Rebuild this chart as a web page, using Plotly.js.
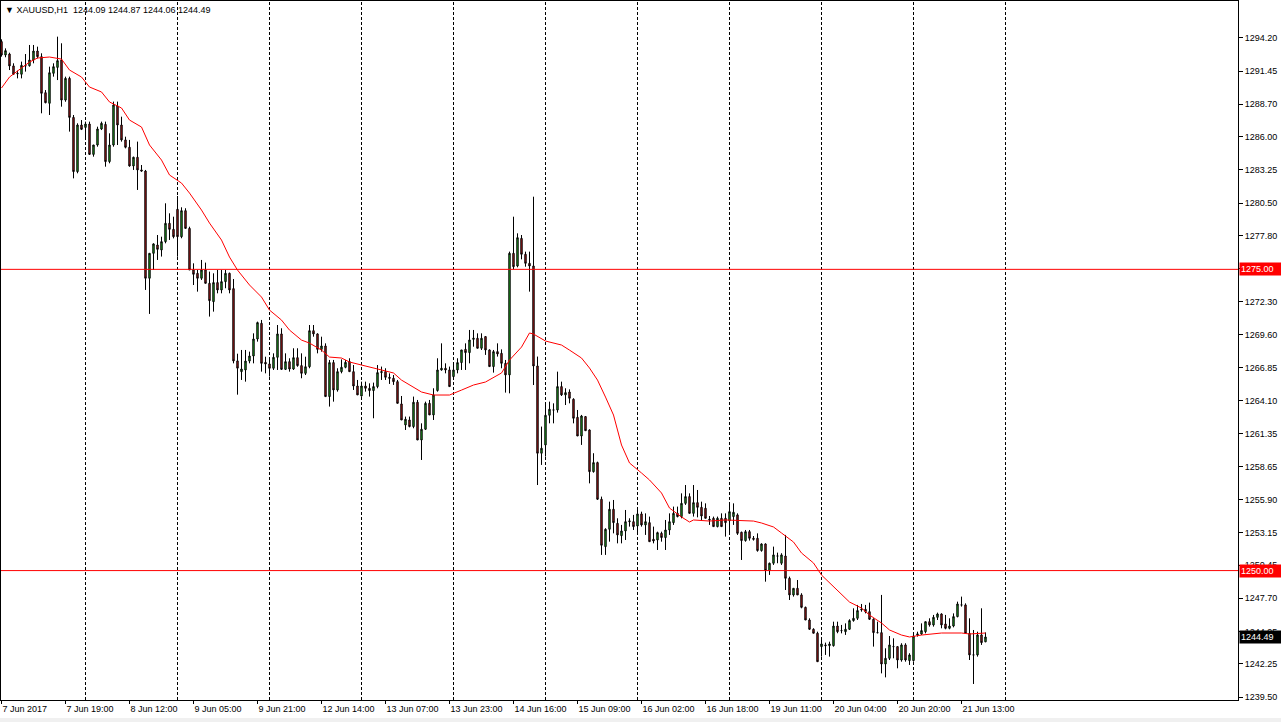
<!DOCTYPE html>
<html>
<head>
<meta charset="utf-8">
<script src="https://cdn.plot.ly/plotly-3.0.1.min.js"></script>
<style>html,body{margin:0;padding:0;background:#fff;}#chart{width:1281px;height:722px;}</style>
</head>
<body>
<div id="chart"></div>
<script>
// ---- data (XAUUSD H1) ----
const symbolName = "XAUUSD,H1";
const openVals = [
1293.90,1292.79,1292.87,1291.88,1291.27,1291.19,1291.88,1291.90,1292.37,1293.12,
1292.65,1289.66,1288.78,1291.27,1291.76,1292.37,1289.05,1290.85,1287.61,1283.11,
1286.98,1286.78,1287.06,1284.54,1285.32,1286.65,1287.03,1283.94,1285.32,1288.56,
1286.98,1285.74,1285.13,1283.58,1284.30,1283.25,1283.16,1274.26,1276.33,1277.02,
1276.61,1277.30,1278.82,1278.32,1279.98,1277.71,1279.87,1278.40,1274.95,1274.67,
1274.26,1274.95,1273.84,1272.32,1273.90,1273.29,1273.98,1274.67,1273.40,1267.40,
1266.51,1266.65,1267.39,1267.81,1269.22,1270.52,1267.28,1267.15,1266.79,1267.70,
1269.64,1266.70,1267.34,1266.73,1267.67,1267.01,1266.37,1266.92,1269.91,1269.64,
1268.36,1268.64,1264.44,1267.26,1264.99,1266.51,1266.87,1267.34,1266.51,1265.32,
1264.49,1265.32,1265.13,1264.94,1265.27,1266.43,1266.51,1266.04,1265.96,1265.68,
1263.83,1262.09,1262.50,1261.95,1263.97,1260.84,1261.73,1263.88,1262.92,1264.94,
1266.65,1266.79,1266.65,1266.10,1266.65,1267.26,1268.36,1268.09,1269.19,1269.28,
1268.45,1269.42,1268.31,1266.93,1268.17,1268.03,1267.20,1266.24,1276.33,1275.28,
1277.57,1276.25,1275.50,1275.28,1266.98,1259.74,1260.43,1262.89,1263.33,1263.33,
1265.27,1264.58,1264.82,1264.22,1262.72,1261.17,1262.78,1261.67,1258.21,1258.96,
1255.92,1251.99,1253.43,1255.09,1253.92,1252.90,1253.29,1254.06,1254.06,1253.70,
1254.70,1253.79,1253.98,1252.60,1252.54,1253.09,1252.74,1253.37,1253.98,1254.75,
1254.48,1255.58,1256.14,1254.75,1255.64,1255.25,1255.17,1254.26,1254.34,1253.65,
1254.34,1254.34,1254.14,1254.48,1254.62,1253.18,1252.49,1253.23,1252.68,1252.68,
1251.66,1252.21,1250.00,1250.61,1251.21,1250.61,1251.21,1249.36,1247.98,1248.53,
1247.98,1246.95,1245.90,1245.13,1244.80,1243.69,1243.83,1243.77,1243.77,1245.40,
1245.02,1244.93,1245.13,1245.85,1246.04,1246.73,1246.79,1246.59,1245.96,1244.85,
1244.85,1242.25,1242.72,1243.69,1243.69,1242.58,1243.83,1242.53,1242.53,1244.66,
1244.74,1244.93,1245.76,1245.49,1246.12,1246.40,1245.57,1245.21,1245.40,1246.18,
1247.15,1247.15,1244.79,1243.00,1243.00,1244.66,1244.09];
const highVals = [
1294.09,1293.34,1292.98,1292.10,1291.49,1292.24,1292.87,1293.62,1293.62,1293.48,
1292.93,1289.88,1291.82,1292.10,1294.31,1293.76,1290.99,1290.99,1287.81,1287.12,
1287.39,1287.26,1287.26,1285.32,1286.84,1287.26,1287.26,1286.29,1288.92,1288.92,
1287.67,1286.01,1285.74,1284.35,1285.60,1283.66,1283.25,1276.33,1277.16,1277.85,
1277.71,1280.48,1279.65,1279.37,1281.09,1280.15,1280.07,1278.54,1275.50,1274.95,
1275.78,1275.56,1274.81,1274.67,1274.95,1274.95,1274.95,1274.73,1274.20,1268.00,
1268.31,1268.31,1268.17,1269.69,1270.66,1270.80,1267.75,1267.48,1268.03,1270.38,
1270.11,1268.03,1267.62,1268.45,1268.45,1268.03,1267.75,1270.38,1270.38,1269.69,
1269.41,1268.86,1267.48,1267.48,1266.79,1267.53,1267.48,1267.62,1267.06,1265.82,
1265.68,1265.68,1265.54,1265.60,1267.06,1266.93,1266.79,1266.37,1266.23,1265.82,
1264.49,1262.78,1262.78,1264.44,1264.16,1262.22,1264.02,1264.16,1265.13,1267.62,
1268.86,1267.20,1266.93,1267.06,1267.62,1268.31,1268.86,1269.97,1269.97,1269.69,
1269.69,1269.42,1268.36,1268.31,1268.86,1268.36,1267.48,1276.47,1279.37,1277.99,
1277.85,1276.47,1276.47,1281.03,1267.76,1261.95,1263.88,1264.02,1263.88,1266.51,
1265.68,1265.13,1265.04,1264.30,1263.33,1262.92,1262.83,1261.72,1259.74,1259.04,
1256.14,1253.51,1255.72,1255.86,1254.34,1253.79,1255.03,1254.34,1254.62,1255.03,
1254.89,1254.75,1254.48,1253.65,1253.23,1253.23,1254.20,1254.75,1255.31,1255.31,
1256.41,1257.10,1256.41,1257.10,1256.69,1255.72,1255.58,1254.53,1254.48,1254.48,
1254.75,1254.75,1255.45,1255.58,1254.75,1253.23,1253.37,1253.37,1252.87,1253.09,
1252.26,1252.26,1250.66,1251.99,1251.49,1251.44,1252.96,1249.50,1248.53,1249.22,
1248.12,1247.01,1246.04,1245.21,1244.93,1244.24,1244.02,1244.10,1245.76,1245.76,
1245.49,1245.62,1245.96,1246.87,1247.15,1247.23,1247.15,1247.34,1246.04,1245.76,
1247.98,1243.55,1244.57,1244.38,1243.69,1243.97,1243.97,1243.14,1244.66,1244.93,
1245.62,1245.76,1246.04,1246.32,1246.51,1246.45,1246.32,1246.04,1246.45,1247.42,
1247.84,1247.28,1246.04,1245.07,1244.93,1246.87,1244.87];
const lowVals = [
1292.65,1292.60,1291.54,1291.13,1290.85,1290.85,1291.41,1291.82,1292.10,1292.51,
1287.95,1288.78,1287.81,1290.99,1290.71,1288.50,1288.91,1286.43,1282.55,1282.97,
1286.56,1285.73,1284.49,1284.35,1285.18,1286.56,1283.52,1283.80,1285.18,1285.32,
1285.60,1285.04,1283.52,1283.25,1281.59,1283.11,1273.29,1271.30,1274.95,1275.78,
1276.06,1277.16,1277.44,1277.57,1276.05,1277.58,1278.40,1274.95,1273.70,1273.15,
1274.12,1273.84,1271.08,1271.49,1273.01,1273.01,1273.43,1273.01,1267.20,1264.60,
1265.82,1265.68,1267.20,1267.20,1269.00,1266.51,1266.37,1266.10,1266.65,1266.65,
1266.65,1266.65,1266.51,1266.65,1266.92,1265.96,1266.23,1266.79,1269.41,1268.03,
1268.17,1264.44,1263.61,1264.02,1264.85,1266.37,1266.79,1266.51,1264.99,1264.58,
1264.44,1264.85,1264.44,1262.64,1265.13,1265.82,1265.82,1265.49,1265.41,1263.88,
1262.50,1261.67,1261.89,1261.81,1260.84,1259.18,1261.67,1262.92,1262.50,1264.85,
1266.59,1266.37,1265.27,1266.04,1266.37,1266.65,1266.65,1267.20,1268.58,1268.45,
1268.31,1267.90,1266.93,1266.43,1267.76,1266.79,1264.77,1264.71,1275.00,1275.17,
1275.83,1275.22,1273.15,1265.40,1257.10,1258.77,1259.46,1262.22,1262.22,1263.11,
1264.49,1263.74,1263.88,1262.22,1261.17,1260.43,1261.61,1257.24,1258.13,1255.86,
1251.30,1251.30,1252.40,1253.09,1252.26,1252.26,1252.54,1253.65,1253.37,1252.96,
1253.65,1252.96,1252.40,1252.26,1251.71,1252.40,1251.71,1252.96,1253.79,1254.42,
1254.34,1255.45,1254.75,1254.48,1254.42,1254.20,1254.34,1253.79,1253.65,1253.59,
1253.65,1252.82,1253.09,1253.79,1252.96,1250.88,1252.40,1252.49,1252.49,1251.57,
1251.57,1249.08,1249.64,1250.47,1250.61,1250.47,1248.39,1247.56,1247.84,1247.98,
1246.87,1245.90,1245.07,1244.80,1242.44,1242.86,1243.00,1242.86,1243.69,1244.80,
1244.79,1244.66,1245.07,1245.76,1245.90,1246.59,1246.45,1245.90,1243.69,1244.79,
1241.47,1241.14,1242.58,1242.72,1241.89,1242.44,1242.44,1242.17,1242.44,1244.52,
1244.66,1244.79,1245.35,1245.35,1245.90,1245.21,1245.13,1245.13,1245.29,1246.12,
1247.01,1244.79,1242.58,1240.59,1242.86,1243.83,1244.06];
const closeVals = [
1292.79,1293.15,1291.88,1291.19,1291.24,1291.93,1291.90,1292.37,1293.12,1292.65,
1289.61,1288.83,1291.32,1291.82,1292.32,1289.05,1290.85,1287.61,1283.11,1286.98,
1286.62,1287.06,1284.54,1285.32,1286.65,1287.12,1283.94,1285.32,1288.64,1286.98,
1285.74,1285.13,1283.58,1284.30,1283.25,1283.16,1274.26,1276.33,1277.11,1276.66,
1277.30,1278.82,1278.32,1277.71,1277.71,1279.87,1278.40,1274.95,1274.59,1274.26,
1274.95,1273.84,1272.40,1273.90,1273.29,1273.98,1274.67,1273.29,1267.40,1266.80,
1266.73,1267.39,1267.81,1269.22,1270.58,1267.20,1267.15,1266.79,1267.70,1269.64,
1266.70,1267.34,1266.73,1267.67,1267.01,1266.37,1266.92,1269.91,1269.64,1268.36,
1268.64,1264.44,1267.26,1264.99,1266.51,1266.87,1267.28,1266.51,1265.32,1264.58,
1265.32,1265.13,1264.94,1265.27,1266.43,1266.51,1266.04,1265.96,1265.68,1263.88,
1262.50,1262.56,1261.95,1263.97,1260.84,1261.73,1263.88,1262.92,1264.58,1266.65,
1266.79,1266.65,1265.27,1266.65,1267.26,1268.31,1268.09,1269.14,1269.28,1268.45,
1269.28,1268.31,1266.93,1268.17,1267.98,1267.20,1266.24,1276.33,1275.22,1277.63,
1276.25,1275.50,1275.28,1266.98,1259.74,1260.15,1262.89,1263.39,1263.33,1265.27,
1264.58,1264.77,1264.30,1262.64,1261.17,1262.83,1261.61,1258.21,1258.96,1255.92,
1252.10,1253.43,1255.09,1253.98,1252.96,1253.29,1254.06,1254.12,1253.65,1254.70,
1253.79,1254.06,1252.40,1252.46,1253.15,1252.74,1253.37,1254.06,1254.75,1254.48,
1255.58,1256.14,1254.75,1255.64,1255.25,1254.53,1254.34,1254.20,1253.65,1254.34,
1253.65,1253.98,1254.89,1254.84,1253.09,1252.49,1253.23,1252.68,1252.60,1251.66,
1252.21,1250.00,1250.61,1251.30,1251.21,1251.30,1249.36,1247.98,1248.53,1247.98,
1246.95,1245.90,1245.13,1244.80,1242.44,1243.91,1243.77,1243.91,1245.40,1244.93,
1245.02,1245.13,1245.85,1246.04,1246.68,1246.79,1246.59,1245.96,1244.85,1244.85,
1242.25,1242.72,1243.83,1243.69,1242.58,1243.83,1242.58,1243.00,1244.57,1244.74,
1245.02,1245.76,1245.49,1246.12,1246.40,1245.49,1245.21,1245.40,1246.18,1247.23,
1247.15,1244.79,1243.00,1243.00,1244.66,1244.02,1244.49];

// moving average (red line) read at selected bars
const maBars = [0,2,5,7,9,12,15,17,20,22,25,27,30,32,35,37,40,42,45,47,50,52,55,57,59,62,65,67,70,72,75,77,80,82,85,87,90,95,98,100,103,105,108,112,115,118,121,125,127,130,132,133,136,140,142,145,147,149,151,153,155,157,160,162,165,167,170,172,173,177,181,188,190,193,195,198,200,203,205,208,211,212,215,217,220,222,225,227,230,232,235,240,242,246];
const maVals = [1290.05,1290.96,1291.71,1292.20,1292.54,1292.62,1292.45,1291.54,1290.96,1290.13,1289.72,1288.89,1288.39,1287.39,1286.81,1285.32,1284.07,1282.83,1282.16,1281.33,1279.92,1278.84,1277.43,1276.02,1274.94,1273.70,1272.70,1271.62,1270.79,1269.96,1269.13,1268.88,1268.30,1267.72,1267.64,1267.31,1267.06,1266.64,1266.40,1265.81,1265.23,1264.82,1264.57,1264.57,1264.98,1265.40,1265.65,1266.40,1267.47,1268.55,1269.72,1269.63,1269.05,1268.72,1268.30,1267.64,1266.81,1265.81,1264.40,1262.91,1260.42,1258.93,1258.10,1257.52,1256.44,1255.19,1254.45,1254.03,1254.20,1254.11,1254.20,1254.11,1253.95,1253.62,1253.12,1252.37,1251.46,1250.63,1249.63,1248.64,1247.64,1247.39,1246.89,1246.31,1245.65,1245.07,1244.65,1244.49,1244.65,1244.74,1244.82,1244.82,1244.74,1244.82];

// x-axis labels (every 16 bars)
const timeLabelBars = [0,16,32,48,64,80,96,112,128,144,160,176,192,208,224,240];
const timeLabels = ["7 Jun 2017","7 Jun 19:00","8 Jun 12:00","9 Jun 05:00","9 Jun 21:00","12 Jun 14:00","13 Jun 07:00","13 Jun 23:00","14 Jun 16:00","15 Jun 09:00","16 Jun 02:00","16 Jun 18:00","19 Jun 11:00","20 Jun 04:00","20 Jun 20:00","21 Jun 13:00"];
// price scale labels
const priceTicks = [1239.50,1242.25,1244.95,1247.70,1250.45,1253.15,1255.90,1258.65,1261.35,1264.10,1266.85,1269.60,1272.30,1275.05,1277.80,1280.50,1283.25,1286.00,1288.70,1291.45,1294.20];
// horizontal levels
const levelPrices = [1275.00, 1250.00];
// vertical grid (bar positions)
const gridBars = [21,44,67,90,113,136,159,182,205,228,251];

// ---- build chart ----
const n = openVals.length;
const barIdx = openVals.map((_, i) => i);
const lastClose = closeVals[n - 1];
const FONT = "'Liberation Sans', Arial, sans-serif";
const GREEN = "#28c828";
const RED = "#d21e1e";

const candles = {
  type: "candlestick", x: barIdx,
  open: openVals, high: highVals, low: lowVals, close: closeVals,
  increasing: {line: {color: "#000000", width: 1}, fillcolor: GREEN},
  decreasing: {line: {color: "#000000", width: 1}, fillcolor: RED},
  whiskerwidth: 0, hoverinfo: "skip", showlegend: false
};
const ma = {
  type: "scatter", mode: "lines", x: maBars, y: maVals,
  line: {color: "#ff0000", width: 1}, hoverinfo: "skip", showlegend: false
};

const shapes = [];
gridBars.forEach(b => shapes.push({type: "line", xref: "x", yref: "paper", x0: b, x1: b, y0: 0, y1: 1,
  line: {color: "#000000", width: 1, dash: "3px,2px"}, layer: "below"}));
levelPrices.forEach(p => shapes.push({type: "line", xref: "paper", yref: "y", x0: 0, x1: 1, y0: p, y1: p,
  line: {color: "#ff0000", width: 1}, layer: "above"}));
shapes.push({type: "rect", xref: "paper", yref: "paper", x0: -0.01, x1: 1.05, y0: -0.0315, y1: -0.0258,
  fillcolor: "#f0f0f0", line: {width: 0}, layer: "below"});

const annotations = [];
levelPrices.forEach(p => annotations.push({xref: "paper", yref: "y", x: 1, y: p, xanchor: "left", yanchor: "middle",
  xshift: 1, text: p.toFixed(2), showarrow: false, bgcolor: "#ff0000", borderpad: 1, width: 40, align: "left",
  font: {family: FONT, size: 9, color: "#ffffff"}}));
annotations.push({xref: "paper", yref: "y", x: 1, y: lastClose, xanchor: "left", yanchor: "middle",
  xshift: 1, text: lastClose.toFixed(2), showarrow: false, bgcolor: "#000000", borderpad: 1, width: 40, align: "left",
  font: {family: FONT, size: 9, color: "#ffffff"}});
annotations.push({xref: "paper", yref: "paper", x: 0, y: 1, xanchor: "left", yanchor: "top", xshift: 2, yshift: -2,
  showarrow: false, align: "left",
  text: "\u25BC " + symbolName + "\u00a0\u00a0" + [openVals[n-1], highVals[n-1], lowVals[n-1], closeVals[n-1]].map(v => v.toFixed(2)).join(" "),
  font: {family: FONT, size: 9, color: "#000000"}});

const layout = {
  width: 1281, height: 722,
  margin: {l: 1, r: 43, t: 1, b: 22, pad: 0},
  paper_bgcolor: "#ffffff", plot_bgcolor: "#ffffff",
  showlegend: false, boxgap: 0.5, dragmode: false,
  xaxis: {
    range: [-0.125, 309.125], showgrid: false, zeroline: false,
    showline: true, linecolor: "#000000", linewidth: 1, mirror: true,
    ticks: "outside", ticklen: 3, tickcolor: "#000000", tickwidth: 1,
    tickvals: timeLabelBars, ticktext: timeLabels, ticklabelposition: "outside right",
    tickfont: {family: FONT, size: 9, color: "#000000"},
    rangeslider: {visible: false}, fixedrange: true
  },
  yaxis: {
    side: "right", range: [1239.26, 1297.27], showgrid: false, zeroline: false,
    showline: true, linecolor: "#000000", linewidth: 1, mirror: true,
    ticks: "outside", ticklen: 4, tickcolor: "#000000", tickwidth: 1,
    tickvals: priceTicks, ticktext: priceTicks.map(v => v.toFixed(2)),
    tickfont: {family: FONT, size: 9, color: "#000000"}, fixedrange: true
  },
  shapes: shapes, annotations: annotations
};

Plotly.newPlot("chart", [candles, ma], layout, {staticPlot: true, displayModeBar: false});
</script>
</body>
</html>
